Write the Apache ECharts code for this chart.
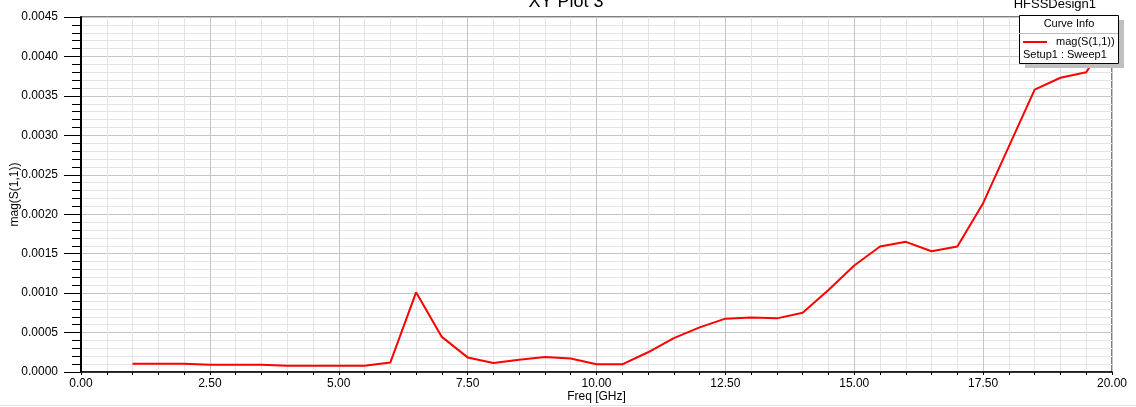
<!DOCTYPE html>
<html>
<head>
<meta charset="utf-8">
<script src="https://cdn.jsdelivr.net/npm/echarts@6/dist/echarts.min.js"></script>
<style>
html,body{margin:0;padding:0;background:#fff;}
#chart{width:1136px;height:407px;}
</style>
</head>
<body>
<div id="chart"></div>
<script>
// Data
const freqGHz = [1.0, 1.5, 2.0, 2.5, 3.0, 3.5, 4.0, 4.5, 5.0, 5.5, 6.0, 6.5, 7.0, 7.5, 8.0, 8.5, 9.0, 9.5, 10.0, 10.5,
  11.0, 11.5, 12.0, 12.5, 13.0, 13.5, 14.0, 14.5, 15.0, 15.5, 16.0, 16.5, 17.0, 17.5, 18.0, 18.5, 19.0, 19.5, 20.0];
const magS11 = [0.000105, 0.000105, 0.000105, 0.000093, 0.000093, 0.000093, 0.000080, 0.000080, 0.000080, 0.000080,
  0.000120, 0.001010, 0.000445, 0.000185, 0.000114, 0.000156, 0.000190, 0.000170, 0.000097, 0.000097,
  0.000250, 0.000430, 0.000566, 0.000676, 0.000692, 0.000680, 0.000750, 0.001040, 0.001350, 0.001590,
  0.001650, 0.001530, 0.001590, 0.002140, 0.002860, 0.003580, 0.003730, 0.003800, 0.004300];
const seriesName = 'mag(S(1,1))';
const sweepName = 'Setup1 : Sweep1';
const titleText = 'XY Plot 3';
const designText = 'HFSSDesign1';
const legendTitle = 'Curve Info';
const xName = 'Freq [GHz]';
const yName = 'mag(S(1,1))';

const FONT = '"Liberation Sans", Arial, sans-serif';
const chart = echarts.init(document.getElementById('chart'), null, {renderer: 'canvas'});

const legendBox = {x: 1019, y: 15, w: 99, h: 48};

chart.setOption({
  animation: false,
  backgroundColor: '#fff',
  grid: {left: 81, right: 24, top: 17, bottom: 35, show: true, borderColor: '#000', borderWidth: 1,
    backgroundColor: 'transparent', containLabel: false, outerBoundsMode: 'none'},
  xAxis: {
    type: 'value', min: 0, max: 20, interval: 2.5,
    name: xName, nameLocation: 'middle', nameGap: 19, nameMoveOverlap: false,
    nameTextStyle: {fontFamily: FONT, fontSize: 12, color: '#000'},
    axisLine: {show: true, onZero: false, lineStyle: {color: '#000', width: 1.5}},
    axisTick: {show: true, length: 3, lineStyle: {color: '#000'}},
    minorTick: {show: true, splitNumber: 5, length: 3, lineStyle: {color: '#000'}},
    axisLabel: {fontFamily: FONT, fontSize: 12, color: '#000', margin: 6, formatter: v => v.toFixed(2)},
    splitLine: {show: true, lineStyle: {color: '#c4c4c4', width: 1}},
    minorSplitLine: {show: true, lineStyle: {color: '#e4e4e4', width: 1}}
  },
  yAxis: {
    type: 'value', min: 0, max: 0.0045, interval: 0.0005,
    name: yName, nameLocation: 'middle', nameGap: 60, nameMoveOverlap: false,
    nameTextStyle: {fontFamily: FONT, fontSize: 12, color: '#000'},
    axisLine: {show: true, onZero: false, lineStyle: {color: '#000', width: 2}},
    axisTick: {show: true, length: 17, lineStyle: {color: '#000'}},
    minorTick: {show: true, splitNumber: 5, length: 9, lineStyle: {color: '#000'}},
    axisLabel: {fontFamily: FONT, fontSize: 12, color: '#000', margin: 23, formatter: v => v.toFixed(4)},
    splitLine: {show: true, lineStyle: {color: '#c4c4c4', width: 1}},
    minorSplitLine: {show: true, lineStyle: {color: '#e4e4e4', width: 1}}
  },
  series: [{
    name: seriesName, type: 'line', z: 2,
    data: freqGHz.map((f, i) => [f, magS11[i]]),
    showSymbol: false, symbol: 'none',
    lineStyle: {color: '#ff0000', width: 2},
    itemStyle: {color: '#ff0000'}
  }],
  graphic: [
    {type: 'text', z: 100, style: {text: titleText, x: 566, y: 11, font: '18px ' + FONT, fill: '#000', textAlign: 'center', align: 'center', textVerticalAlign: 'bottom', verticalAlign: 'bottom'}},
    {type: 'text', z: 100, style: {text: designText, x: 1096, y: 11, font: '13px ' + FONT, fill: '#000', textAlign: 'right', align: 'right', textVerticalAlign: 'bottom', verticalAlign: 'bottom'}},
    {type: 'rect', z: 100, shape: {x: legendBox.x + 6, y: legendBox.y + 5, width: legendBox.w, height: legendBox.h}, style: {fill: '#c0c0c0'}},
    {type: 'rect', z: 101, shape: {x: legendBox.x + 0.5, y: legendBox.y + 0.5, width: legendBox.w, height: legendBox.h}, style: {fill: '#fff', stroke: '#000', lineWidth: 1}},
    {type: 'line', z: 102, shape: {x1: legendBox.x, y1: legendBox.y + 18.5, x2: legendBox.x + legendBox.w, y2: legendBox.y + 18.5}, style: {stroke: '#bbb', lineWidth: 1}},
    {type: 'text', z: 102, style: {text: legendTitle, x: legendBox.x + 50, y: legendBox.y + 9, font: '11px ' + FONT, fill: '#000', textAlign: 'center', align: 'center', textVerticalAlign: 'middle', verticalAlign: 'middle'}},
    {type: 'line', z: 102, shape: {x1: legendBox.x + 4, y1: legendBox.y + 27, x2: legendBox.x + 28, y2: legendBox.y + 27}, style: {stroke: '#ff0000', lineWidth: 2}},
    {type: 'text', z: 102, style: {text: seriesName, x: legendBox.x + 37, y: legendBox.y + 27, font: '11px ' + FONT, fill: '#000', textAlign: 'left', align: 'left', textVerticalAlign: 'middle', verticalAlign: 'middle'}},
    {type: 'text', z: 102, style: {text: sweepName, x: legendBox.x + 4, y: legendBox.y + 39.5, font: '11px ' + FONT, fill: '#000', textAlign: 'left', align: 'left', textVerticalAlign: 'middle', verticalAlign: 'middle'}},
    {type: 'line', z: 100, shape: {x1: 0, y1: 405.5, x2: 1136, y2: 405.5}, style: {stroke: '#e0e0e0', lineWidth: 1}}
  ]
});
</script>
</body>
</html>
